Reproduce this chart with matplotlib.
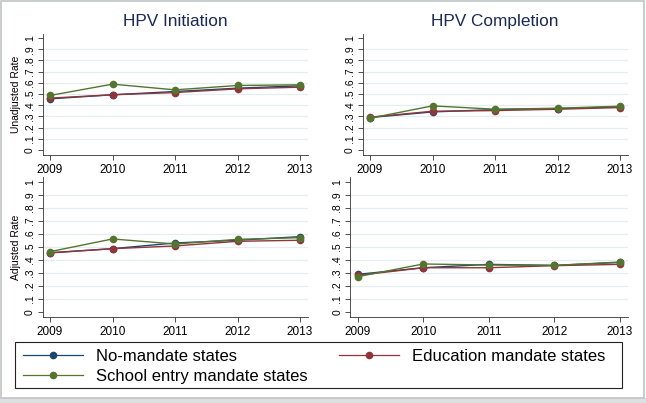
import matplotlib.pyplot as plt
from matplotlib.patches import Rectangle

plt.rcParams['font.family'] = ['Liberation Sans', 'DejaVu Sans']

years = [2009, 2010, 2011, 2012, 2013]
series_names = ['No-mandate states', 'Education mandate states', 'School entry mandate states']
colors = ['#1a476f', '#90353b', '#55752f']

# unadjusted rates
unadj_init_no = [0.457, 0.493, 0.522, 0.552, 0.573]
unadj_init_edu = [0.463, 0.493, 0.513, 0.546, 0.561]
unadj_init_school = [0.487, 0.588, 0.537, 0.576, 0.582]

unadj_comp_no = [0.290, 0.340, 0.361, 0.370, 0.385]
unadj_comp_edu = [0.293, 0.346, 0.352, 0.364, 0.379]
unadj_comp_school = [0.284, 0.394, 0.364, 0.373, 0.391]

# adjusted rates
adj_init_no = [0.456, 0.487, 0.531, 0.552, 0.580]
adj_init_edu = [0.454, 0.487, 0.508, 0.544, 0.552]
adj_init_school = [0.464, 0.562, 0.523, 0.559, 0.572]

adj_comp_no = [0.289, 0.340, 0.366, 0.358, 0.381]
adj_comp_edu = [0.281, 0.340, 0.340, 0.356, 0.366]
adj_comp_school = [0.271, 0.369, 0.361, 0.358, 0.384]

yticks = [0, .1, .2, .3, .4, .5, .6, .7, .8, .9, 1]
ytick_labels = ['0', '.1', '.2', '.3', '.4', '.5', '.6', '.7', '.8', '.9', '1']

W, H = 646, 403
fig = plt.figure(figsize=(W / 100, H / 100), dpi=100)
fig.patch.set_facecolor('white')


def px_axes(x0, x1, top, bottom):
    return fig.add_axes([x0 / W, 1 - bottom / H, (x1 - x0) / W, (bottom - top) / H])


panels = [
    (px_axes(42.5, 307.5, 33.5, 154.5), [unadj_init_no, unadj_init_edu, unadj_init_school], 'HPV Initiation', 'Unadjusted Rate'),
    (px_axes(362.5, 627.5, 33.5, 154.5), [unadj_comp_no, unadj_comp_edu, unadj_comp_school], 'HPV Completion', None),
    (px_axes(42.5, 307.5, 177, 317), [adj_init_no, adj_init_edu, adj_init_school], None, 'Adjusted Rate'),
    (px_axes(349.8, 627.9, 177, 317), [adj_comp_no, adj_comp_edu, adj_comp_school], None, None),
]

handles = []
for ax, data, title, ylabel in panels:
    ax.set_facecolor('white')
    for g in yticks[1:-1]:
        ax.axhline(g, color='#e4edf0', lw=0.9, zorder=0)
    lines = []
    for vals, c, name in zip(data, colors, series_names):
        ln, = ax.plot(years, vals, color=c, lw=1.0, marker='o', markersize=5.5,
                      markeredgewidth=0, label=name, zorder=3)
        lines.append(ln)
    handles = lines
    ax.set_xlim(2008.88, 2013.12)
    ax.set_ylim(-0.04, 1.04)
    ax.set_xticks(years)
    ax.set_xticklabels([str(y) for y in years], fontsize=8.5)
    ax.set_yticks(yticks)
    ax.set_yticklabels(ytick_labels, fontsize=7.5, rotation=90, va='center')
    ax.tick_params(axis='both', direction='out', length=3.5, width=0.6, color='#333333', pad=2)
    ax.tick_params(axis='x', pad=3)
    for s in ['top', 'right']:
        ax.spines[s].set_visible(False)
    for s in ['left', 'bottom']:
        ax.spines[s].set_linewidth(0.6)
        ax.spines[s].set_color('#333333')
    if title:
        ax.set_title(title, fontsize=12.4, color='#1a2a55', pad=5.5)
    if ylabel:
        ax.set_ylabel(ylabel, fontsize=7.5, labelpad=3)

# legend box drawn separately so it can span the full width
fig.patches.append(Rectangle((15 / W, 1 - 388 / H), (622 - 15) / W, (388 - 342) / H,
                             transform=fig.transFigure, facecolor='white',
                             edgecolor='#222222', lw=0.8))
leg = fig.legend([handles[0], handles[2], handles[1]],
                 [series_names[0], series_names[2], series_names[1]],
                 ncol=2, loc='upper left', bbox_to_anchor=(23 / W, 1 - 349 / H),
                 fontsize=12, frameon=False, handlelength=3.6, handletextpad=0.78,
                 borderaxespad=0, borderpad=0, labelspacing=0.3, columnspacing=1.86)
for h in leg.legend_handles:
    h.set_linewidth(0.9)

# outer grey frame
fig.patches.append(Rectangle((0, 0), 1, 5 / H, transform=fig.transFigure,
                             facecolor='#dde0e0', edgecolor='none', zorder=-1))
fig.patches.append(Rectangle((1 / W, 5 / H), 643 / W, (H - 6) / H, transform=fig.transFigure,
                             facecolor='none', edgecolor='#c0c4c4', lw=1.2, zorder=-1))

fig.savefig('out.png', dpi=100)
